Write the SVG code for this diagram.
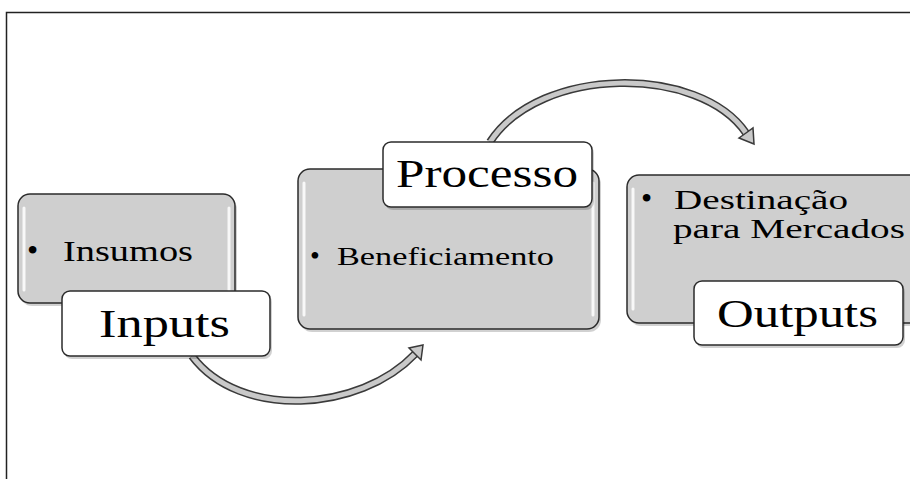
<svg xmlns="http://www.w3.org/2000/svg" width="910" height="479" viewBox="0 0 910 479">
<defs>
<style>
.gray{fill:#cfcfcf;stroke:#2b2b2b;stroke-width:1.5}
.hl{fill:none;stroke:#ffffff;stroke-width:3;stroke-opacity:0.85;stroke-linecap:round}
.lab{fill:#ffffff;stroke:#2b2b2b;stroke-width:1.5}
.shadow{fill:#000;fill-opacity:0.18}
.t{font-family:"Liberation Serif","Times New Roman",serif;fill:#000}
.arcO{fill:none;stroke:#3a3a3a;stroke-width:8}
.arcI{fill:none;stroke:#c9c9c9;stroke-width:5}
.head{fill:#c9c9c9;stroke:#3a3a3a;stroke-width:1.5;stroke-linejoin:miter}
</style>
</defs>
<rect width="910" height="479" fill="#ffffff"/>
<path d="M6.5,479 V12.5 H910" fill="none" stroke="#222" stroke-width="1.5"/>
<g id="connectors">
<path class="arcO" d="M192,356 C240,420 360,412 415,354"/>
<path class="arcI" d="M192,356 C240,420 360,412 415,354"/>
<polygon class="head" points="423,345 421,360 415,354 409,348"/>
<path class="arcO" d="M490,142 C540,65 700,65 746,133"/>
<path class="arcI" d="M490,142 C540,65 700,65 746,133"/>
<polygon class="head" points="754,144 739,138 746,133 753,128"/>
</g>
<g id="node-inputs">
<rect class="shadow" x="20" y="197" width="217" height="109" rx="12"/>
<rect class="gray" x="18" y="194" width="217" height="109" rx="12"/>
<path class="hl" d="M24,208 V290 M229,208 V290"/>
<text class="t" x="27" y="261" font-size="32">•</text>
<text class="t" x="63" y="261" font-size="29" textLength="130" lengthAdjust="spacingAndGlyphs">Insumos</text>
<rect class="shadow" x="64" y="294" width="208" height="65" rx="8"/>
<rect class="lab" x="62" y="291" width="208" height="65" rx="8"/>
<text class="t" x="99" y="337" font-size="41" textLength="131" lengthAdjust="spacingAndGlyphs">Inputs</text>
</g>
<g id="node-processo">
<rect class="shadow" x="300" y="172" width="301" height="160" rx="12"/>
<rect class="gray" x="298" y="169" width="301" height="160" rx="12"/>
<path class="hl" d="M304,183 V315 M593,183 V315"/>
<text class="t" x="310" y="265" font-size="28">•</text>
<text class="t" x="337" y="265" font-size="26" textLength="217" lengthAdjust="spacingAndGlyphs">Beneficiamento</text>
<rect class="shadow" x="385" y="145" width="209" height="65" rx="8"/>
<rect class="lab" x="383" y="142" width="209" height="65" rx="8"/>
<text class="t" x="396" y="187" font-size="41" textLength="182" lengthAdjust="spacingAndGlyphs">Processo</text>
</g>
<g id="node-outputs">
<rect class="shadow" x="629" y="178" width="300" height="148" rx="12"/>
<rect class="gray" x="627" y="175" width="300" height="148" rx="12"/>
<path class="hl" d="M633,189 V309"/>
<text class="t" x="641" y="209" font-size="32">•</text>
<text class="t" x="674" y="209" font-size="27" textLength="174" lengthAdjust="spacingAndGlyphs">Destinação</text>
<text class="t" x="673" y="238" font-size="27" textLength="232" lengthAdjust="spacingAndGlyphs">para Mercados</text>
<rect class="shadow" x="696" y="284" width="209" height="64" rx="8"/>
<rect class="lab" x="694" y="281" width="209" height="64" rx="8"/>
<text class="t" x="717" y="327" font-size="41" textLength="161" lengthAdjust="spacingAndGlyphs">Outputs</text>
</g>
</svg>
